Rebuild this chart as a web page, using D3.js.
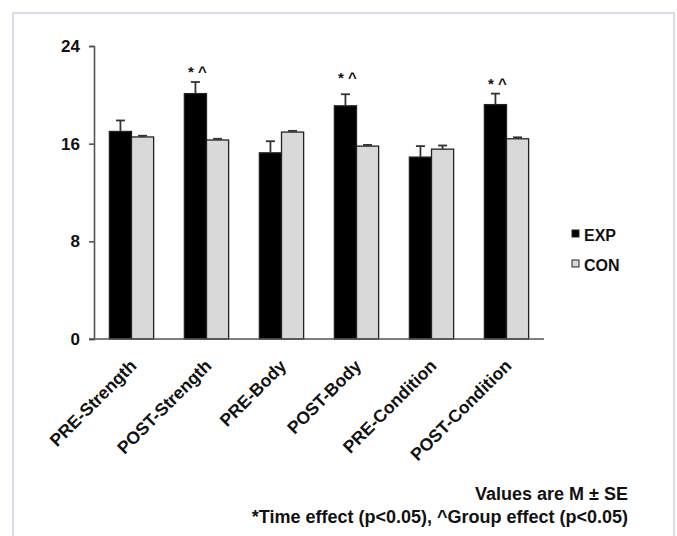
<!DOCTYPE html>
<html>
<head>
<meta charset="utf-8">
<script src="https://cdn.jsdelivr.net/npm/d3@7"></script>
<style>
  body { margin: 0; background: #fff; }
  text { font-family: "Liberation Sans", Arial, sans-serif; font-weight: bold; fill: #111; }
</style>
</head>
<body>
<div id="chart"></div>
<script>
    // categories and series
    var categories = ["PRE-Strength", "POST-Strength", "PRE-Body", "POST-Body", "PRE-Condition", "POST-Condition"];
    var series = ["EXP", "CON"];
    var expMean = [17.0, 20.1, 15.25, 19.1, 14.9, 19.2];
    var expSE   = [0.9, 0.95, 0.95, 0.95, 0.9, 0.9];
    var conMean = [16.55, 16.3, 16.95, 15.8, 15.55, 16.4];
    var conSE   = [0.1, 0.1, 0.1, 0.1, 0.3, 0.12];
    // significance markers (label, height in data units)
    var markLabel = ["", "* ^", "", "* ^", "", "* ^"];
    var markValue = [0, 22.1, 0, 21.6, 0, 21.15];
    var yTicks = [0, 8, 16, 24];
    var footnotes = ["Values are M \u00b1 SE", "*Time effect (p<0.05), ^Group effect (p<0.05)"];

    var width = 677, height = 536;
    var margin = {top: 46, left: 94, right: 133, bottom: 197};

    var svg = d3.select("#chart")
      .append("svg")
        .attr("width", width)
        .attr("height", height);

    // frame
    svg.append("rect")
      .attr("x", 13).attr("y", 13)
      .attr("width", 661).attr("height", 540)
      .attr("fill", "none")
      .attr("stroke", "#cfcfea")
      .attr("stroke-width", 1.5);

    var data = categories.map(function(c, i) {
        return {
            cat: c,
            values: [
                {key: "EXP", mean: expMean[i], se: expSE[i]},
                {key: "CON", mean: conMean[i], se: conSE[i]}
            ],
            mark: markLabel[i],
            markY: markValue[i]
        };
    });

    var x0 = d3.scaleBand()
        .domain(categories)
        .range([margin.left, width - margin.right])
        .paddingInner(0.41)
        .paddingOuter(0.205);

    var x1 = d3.scaleBand()
        .domain(series)
        .range([0, x0.bandwidth()]);

    var y = d3.scaleLinear()
        .domain([0, 24])
        .range([height - margin.bottom, margin.top]);

    var color = d3.scaleOrdinal().domain(series).range(["#000000", "#d9d9d9"]);

    // bars
    var groups = svg.append("g").selectAll("g")
      .data(data)
      .enter().append("g")
        .attr("transform", function(d) { return "translate(" + x0(d.cat) + ",0)"; });

    groups.selectAll("rect")
      .data(function(d) { return d.values; })
      .enter().append("rect")
        .attr("x", function(d) { return x1(d.key); })
        .attr("y", function(d) { return y(d.mean); })
        .attr("width", x1.bandwidth())
        .attr("height", function(d) { return y(0) - y(d.mean); })
        .attr("fill", function(d) { return color(d.key); })
        .attr("stroke", "#222")
        .attr("stroke-width", 1.3);

    // error bars (upper only)
    var err = groups.selectAll("g.err")
      .data(function(d) { return d.values; })
      .enter().append("g")
        .attr("class", "err")
        .attr("stroke", "#333")
        .attr("stroke-width", 1.8);

    err.append("line")
        .attr("x1", function(d) { return x1(d.key) + x1.bandwidth() / 2; })
        .attr("x2", function(d) { return x1(d.key) + x1.bandwidth() / 2; })
        .attr("y1", function(d) { return y(d.mean); })
        .attr("y2", function(d) { return y(d.mean + d.se); });

    err.append("line")
        .attr("x1", function(d) { return x1(d.key) + x1.bandwidth() / 2 - 4.5; })
        .attr("x2", function(d) { return x1(d.key) + x1.bandwidth() / 2 + 4.5; })
        .attr("y1", function(d) { return y(d.mean + d.se); })
        .attr("y2", function(d) { return y(d.mean + d.se); });

    // significance markers
    groups.filter(function(d) { return d.mark; })
      .append("text")
        .attr("x", x1("EXP") + x1.bandwidth() / 2 + 2)
        .attr("y", function(d) { return y(d.markY) + 8; })
        .attr("text-anchor", "middle")
        .style("font-size", "15px")
        .text(function(d) { return d.mark; });

    // y axis
    var yAxis = svg.append("g")
      .attr("transform", "translate(" + margin.left + ",0)")
      .call(d3.axisLeft(y).tickValues(yTicks).tickSize(5).tickSizeOuter(5).tickPadding(9));
    yAxis.select(".domain").attr("stroke", "#555").attr("stroke-width", 1.6);
    yAxis.selectAll(".tick line").attr("stroke", "#555").attr("stroke-width", 1.6);
    yAxis.selectAll(".tick text")
      .style("font-size", "17px")
      .style("font-family", "'Liberation Sans', Arial, sans-serif")
      .style("font-weight", "bold")
      .attr("fill", "#111");

    // x axis
    var xAxis = svg.append("g")
      .attr("transform", "translate(0," + y(0) + ")")
      .call(d3.axisBottom(x0).tickSize(0).tickSizeOuter(0));
    xAxis.select(".domain")
      .attr("d", "M" + (margin.left - 5) + ",0H" + (width - margin.right))
      .attr("stroke", "#555").attr("stroke-width", 1.6);
    xAxis.selectAll(".tick text")
      .attr("y", 0).attr("dy", 0)
      .attr("transform", "translate(6,28) rotate(-45)")
      .style("text-anchor", "end")
      .style("font-size", "17.5px")
      .style("font-family", "'Liberation Sans', Arial, sans-serif")
      .style("font-weight", "bold")
      .attr("fill", "#111");

    // legend
    var legend = svg.append("g").selectAll("g")
      .data(series)
      .enter().append("g")
        .attr("transform", function(d, i) { return "translate(572," + (230 + i * 30) + ")"; });
    legend.append("rect")
      .attr("width", 7).attr("height", 7)
      .attr("fill", function(d) { return color(d); })
      .attr("stroke", "#222").attr("stroke-width", 1);
    legend.append("text")
      .attr("x", 12).attr("y", 11)
      .style("font-size", "16px")
      .text(function(d) { return d; });

    // footnotes
    svg.append("g").selectAll("text")
      .data(footnotes)
      .enter().append("text")
        .attr("x", 628)
        .attr("y", function(d, i) { return 500 + i * 22.5; })
        .attr("text-anchor", "end")
        .style("font-size", "18px")
        .text(function(d) { return d; });
</script>
</body>
</html>
